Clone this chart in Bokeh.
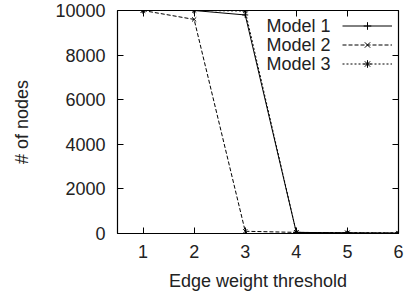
from bokeh.plotting import figure
from bokeh.models import Legend, LegendItem, Label, LinearAxis, FixedTicker, Range1d
from bokeh.embed import file_html
from bokeh.resources import INLINE

thresholds = [1, 2, 3, 4, 5, 6]
model1 = [10000, 10000, 9800, 50, 30, 20]
model2 = [10000, 9600, 100, 50, 30, 20]
model3 = [10000, 10000, 9980, 50, 30, 20]
series_names = ["Model 1", "Model 2", "Model 3"]
y_ticks = [0, 2000, 4000, 6000, 8000, 10000]

FONT = "Liberation Sans"
TXT = "#222222"

p = figure(width=405, height=294, output_backend="svg", toolbar_location=None,
           x_range=Range1d(0.5, 6), y_range=Range1d(0, 10000),
           min_border_left=117, min_border_right=7, min_border_top=10, min_border_bottom=61)
p.grid.visible = False
p.outline_line_color = "black"
p.outline_line_width = 1.2
p.background_fill_color = "white"
p.border_fill_color = "white"

for ax in [p.xaxis[0], p.yaxis[0]]:
    ax.major_tick_in = 6
    ax.major_tick_out = 0
    ax.minor_tick_line_color = None
    ax.axis_line_color = None
    ax.major_tick_line_color = "black"
    ax.major_label_text_font = FONT
    ax.major_label_text_font_size = "18px"
    ax.major_label_text_color = TXT
    ax.axis_label_text_font = FONT
    ax.axis_label_text_font_size = "18px"
    ax.axis_label_text_font_style = "normal"
    ax.axis_label_text_color = TXT

p.xaxis.ticker = FixedTicker(ticks=thresholds)
p.yaxis.ticker = FixedTicker(ticks=y_ticks)
p.xaxis.major_label_standoff = 11
p.yaxis.major_label_standoff = 12
p.xaxis.axis_label = "Edge weight threshold"
p.yaxis.axis_label = "# of nodes"
p.xaxis.axis_label_standoff = 10
p.yaxis.axis_label_standoff = 20

# mirrored ticks
top = LinearAxis(ticker=FixedTicker(ticks=thresholds), major_label_text_font_size="0px",
                 major_tick_in=6, major_tick_out=0, minor_tick_line_color=None,
                 axis_line_color=None, major_label_standoff=0)
right = LinearAxis(ticker=FixedTicker(ticks=y_ticks), major_label_text_font_size="0px",
                   major_tick_in=6, major_tick_out=0, minor_tick_line_color=None,
                   axis_line_color=None, major_label_standoff=0)
top.major_label_overrides = {t: "" for t in thresholds}
right.major_label_overrides = {t: "" for t in y_ticks}
p.add_layout(top, "above")
p.add_layout(right, "right")
p.min_border_top = 10
p.min_border_right = 7

styles = [("solid", "cross"), ("4 2", "x"), ("2 2", "asterisk")]
items = []
for name, ys, (dash, marker) in zip(series_names, [model1, model2, model3], styles):
    l = p.line(thresholds, ys, line_color="black", line_width=1, line_dash=dash)
    s = p.scatter(thresholds, ys, marker=marker, size=6, line_color="black", line_width=1)
    items.append(LegendItem(label=" ", renderers=[l, s]))

legend = Legend(items=items, location=(225, 160), glyph_width=50, glyph_height=19,
                spacing=0, padding=0, margin=0, label_width=0, label_standoff=0,
                label_text_font_size="1px", border_line_color=None,
                background_fill_alpha=0)
p.add_layout(legend, "center")

for i, name in enumerate(series_names):
    p.add_layout(Label(x=213, y=208 - i * 19, x_units="screen", y_units="screen",
                       text=name, text_align="right", text_baseline="middle",
                       text_font=FONT, text_font_size="18px", text_color=TXT))

open("out.html", "w").write(file_html(p, INLINE))
